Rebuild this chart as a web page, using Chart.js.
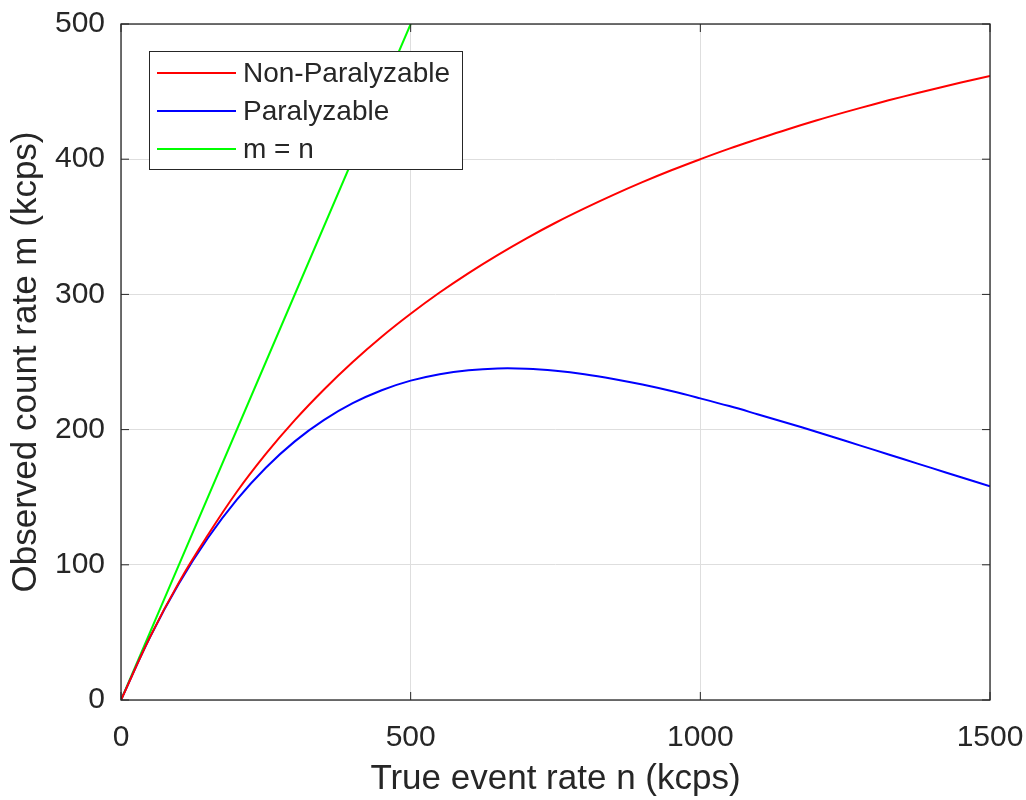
<!DOCTYPE html>
<html lang="en">
<head>
<meta charset="utf-8">
<title>Observed vs true count rate</title>
<script src="https://cdn.jsdelivr.net/npm/chart.js@4.4.1/dist/chart.umd.min.js"></script>
<style>
    html, body { margin: 0; padding: 0; background: #fff; }
    #wrap { width: 1026px; height: 800px; position: relative; }
</style>
</head>
<body>
<div id="wrap"><canvas id="chart"></canvas></div>
<script>
// ── Datos ─────────────────────────────────────────────────────────────────
const trueRate = [0, 50, 100, 150, 200, 250, 300, 350, 400, 450, 500,
                  550, 600, 650, 700, 750, 800, 850, 900, 950, 1000,
                  1050, 1100, 1150, 1200, 1250, 1300, 1350, 1400, 1450, 1500];
const nonParalyzable = [0, 46.5, 87, 122, 154, 182, 207, 229.5, 250, 268.7, 285.7,
                        301.4, 315.8, 329.1, 341.5, 353, 363.6, 373.6, 383, 391.8, 400,
                        407.8, 415, 422, 428.6, 434.8, 440.7, 446.3, 451.6, 456.7, 461.5];
const paralyzable = [0, 46.4, 86.1, 119.8, 148.2, 171.8, 191.3, 207, 219.5, 229.1, 236.2,
                     241, 243.9, 245.2, 245, 243.5, 241, 237.5, 233.3, 228.5, 223.1,
                     217.4, 211.2, 204.9, 198.4, 191.7, 185, 178.2, 171.5, 164.7, 158.1];
const idealRate = [0, 500];

const seriesNames = ['Non-Paralyzable', 'Paralyzable', 'm = n'];
const xTickValues = [0, 500, 1000, 1500];
const yTickValues = [0, 100, 200, 300, 400, 500];

const xTitle = 'True event rate n (kcps)';
const yTitle = 'Observed count rate m (kcps)';

// ── Estilo ────────────────────────────────────────────────────────────────
const INK      = '#262626';
const GRID     = '#dedede';
const FONT     = "'Liberation Sans', Arial, Helvetica, sans-serif";
const TICK_LEN = 8;

const toPoints = (xs, ys) => xs.map((x, i) => ({ x, y: ys[i] }));

// ═════════════════════════════════════════════════════════════════════════
// CAJA DE EJES + LEYENDA (estilo MATLAB)
// ═════════════════════════════════════════════════════════════════════════
const axesBoxPlugin = {
    id: 'axesBox',
    afterDatasetsDraw(chart) {
        const { ctx, chartArea: a, scales } = chart;
        ctx.save();
        ctx.strokeStyle = INK;
        ctx.lineWidth = 1.3;
        ctx.strokeRect(a.left, a.top, a.right - a.left, a.bottom - a.top);

        // marcas hacia dentro en los cuatro lados
        ctx.lineWidth = 1;
        ctx.beginPath();
        xTickValues.forEach(v => {
            const px = scales.x.getPixelForValue(v);
            ctx.moveTo(px, a.bottom); ctx.lineTo(px, a.bottom - TICK_LEN);
            ctx.moveTo(px, a.top);    ctx.lineTo(px, a.top + TICK_LEN);
        });
        yTickValues.forEach(v => {
            const py = scales.y.getPixelForValue(v);
            ctx.moveTo(a.left, py);  ctx.lineTo(a.left + TICK_LEN, py);
            ctx.moveTo(a.right, py); ctx.lineTo(a.right - TICK_LEN, py);
        });
        ctx.stroke();
        ctx.restore();
    }
};

const boxLegendPlugin = {
    id: 'boxLegend',
    afterDatasetsDraw(chart) {
        const { ctx } = chart;
        const box = { x: 149, y: 51, w: 313, h: 118 };
        const rowY = [73, 111, 149];

        ctx.save();
        ctx.fillStyle = '#fff';
        ctx.fillRect(box.x, box.y, box.w, box.h);
        ctx.strokeStyle = INK;
        ctx.lineWidth = 1;
        ctx.strokeRect(box.x + 0.5, box.y + 0.5, box.w, box.h);

        ctx.font = `28px ${FONT}`;
        ctx.textBaseline = 'middle';
        chart.data.datasets.forEach((ds, i) => {
            ctx.strokeStyle = ds.borderColor;
            ctx.lineWidth = 2;
            ctx.beginPath();
            ctx.moveTo(157, rowY[i]);
            ctx.lineTo(236, rowY[i]);
            ctx.stroke();
            ctx.fillStyle = INK;
            ctx.fillText(ds.label, 243, rowY[i] + 1);
        });
        ctx.restore();
    }
};

// ═════════════════════════════════════════════════════════════════════════
// GRÁFICA
// ═════════════════════════════════════════════════════════════════════════
const lineStyle = color => ({
    borderColor: color,
    backgroundColor: color,
    borderWidth: 2,
    pointRadius: 0,
    showLine: true,
    fill: false,
    tension: 0.4
});

// sin relleno automático de las etiquetas: la caja la fija layout.padding
const noScalePadding = s => {
    s.paddingTop = 0; s.paddingBottom = 0;
    s.paddingLeft = 0; s.paddingRight = 0;
};

new Chart(document.getElementById('chart').getContext('2d'), {
    type: 'scatter',
    data: {
        datasets: [
            { label: seriesNames[0], data: toPoints(trueRate, nonParalyzable), ...lineStyle('#ff0000') },
            { label: seriesNames[1], data: toPoints(trueRate, paralyzable),    ...lineStyle('#0000ff') },
            { label: seriesNames[2], data: toPoints(idealRate, idealRate),     ...lineStyle('#00ff00') }
        ]
    },
    options: {
        responsive: true,
        maintainAspectRatio: false,
        animation: false,
        layout: { padding: { top: 24, right: 36, left: 0, bottom: 0 } },
        plugins: {
            legend: { display: false },
            tooltip: { enabled: false }
        },
        scales: {
            x: {
                type: 'linear',
                min: 0,
                max: 1500,
                afterBuildTicks: s => { s.ticks = xTickValues.map(v => ({ value: v })); },
                afterFit: s => { s.height = 100; noScalePadding(s); },
                grid: { color: GRID, drawTicks: false },
                border: { display: false },
                ticks: {
                    color: INK, padding: 20, font: { family: FONT, size: 30 },
                    callback: v => String(v)
                },
                title: {
                    display: true, text: xTitle, color: INK,
                    font: { family: FONT, size: 35, lineHeight: 1.2 },
                    padding: { top: 0, bottom: 0 }
                }
            },
            y: {
                type: 'linear',
                min: 0,
                max: 500,
                afterBuildTicks: s => { s.ticks = yTickValues.map(v => ({ value: v })); },
                afterFit: s => { s.width = 121; noScalePadding(s); },
                grid: { color: GRID, drawTicks: false },
                border: { display: false },
                ticks: {
                    color: INK, padding: 16, font: { family: FONT, size: 30 },
                    callback: v => String(v)
                },
                title: {
                    display: true, text: yTitle, color: INK,
                    font: { family: FONT, size: 35, lineHeight: 1.2 },
                    padding: { top: 5, bottom: 0 }
                }
            }
        }
    },
    plugins: [axesBoxPlugin, boxLegendPlugin]
});
</script>
</body>
</html>
